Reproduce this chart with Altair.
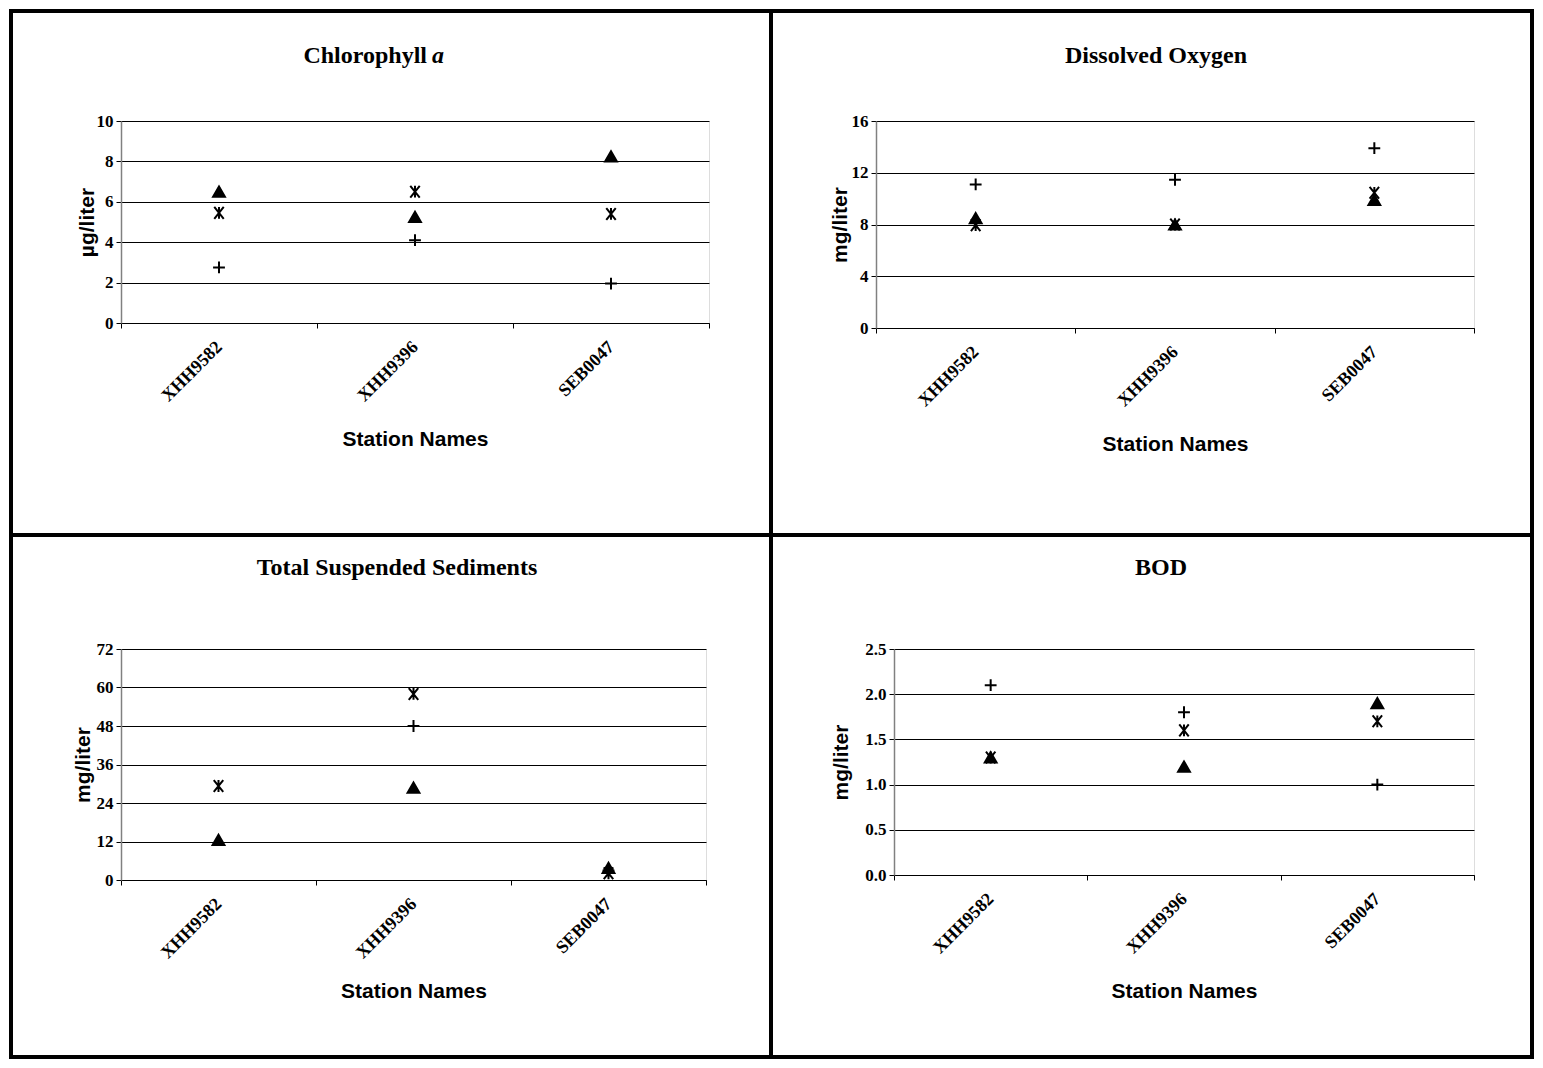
import altair as alt
import pandas as pd

stations = ["XHH9582", "XHH9396", "SEB0047"]
series_names = ["Sample 1", "Sample 2", "Sample 3"]  # plus, star, triangle

chl_plus = [2.75, 4.1, 1.95]
chl_star = [5.45, 6.5, 5.4]
chl_tri = [6.5, 5.25, 8.25]

do_plus = [11.1, 11.45, 13.9]
do_star = [7.95, 8.0, 10.45]
do_tri = [8.5, 8.0, 9.9]

tss_plus = [None, 48.0, 3.0]
tss_star = [29.3, 58.0, 2.1]
tss_tri = [12.5, 28.8, 3.8]

bod_plus = [2.1, 1.8, 1.0]
bod_star = [1.3, 1.6, 1.7]
bod_tri = [1.3, 1.2, 1.9]

chl_ticks = [0, 2, 4, 6, 8, 10]
do_ticks = [0, 4, 8, 12, 16]
tss_ticks = [0, 12, 24, 36, 48, 60, 72]
bod_ticks = [0, 0.5, 1.0, 1.5, 2.0, 2.5]

PLUS = "M-1,0L1,0M0,-1L0,1"
STAR = "M-0.8,-1L0.8,1M-0.8,1L0.8,-1M0,-1L0,1"

SERIF = "Liberation Serif"
SANS = "Liberation Sans"


def make_df(plus, star, tri):
    rows = []
    for name, vals in zip(series_names, [plus, star, tri]):
        for st, v in zip(stations, vals):
            if v is not None:
                rows.append({"station": st, "series": name, "value": v})
    return pd.DataFrame(rows)


def panel(plus, star, tri, ticks, fmt, ytitle, w, h, frame, titles,
          ytitle_x, xtitle_y):
    df = make_df(plus, star, tri)
    one = pd.DataFrame({"k": [0]})
    pts = alt.Chart(df).mark_point(
        filled=True, color="black", stroke="black", strokeWidth=2,
        opacity=1, size=140
    ).encode(
        x=alt.X("station:N", sort=stations,
                scale=alt.Scale(type="band", domain=stations,
                                paddingInner=0, paddingOuter=0),
                axis=alt.Axis(title="Station Names", labelAngle=-45,
                              labelAlign="right", labelBaseline="middle",
                              labelFont=SERIF, labelFontWeight="bold",
                              labelFontSize=18, labelColor="black",
                              labelPadding=16, tickBand="extent", tickSize=5,
                              tickColor="black", domainColor="black",
                              domainWidth=1, grid=False,
                              titleFont=SANS, titleFontWeight="bold",
                              titleFontSize=21, titleColor="black",
                              titleY=xtitle_y, titleBaseline="middle")),
        y=alt.Y("value:Q",
                scale=alt.Scale(domain=[ticks[0], ticks[-1]], nice=False),
                axis=alt.Axis(values=ticks, format=fmt, grid=True,
                              gridColor="black", gridWidth=1, gridOpacity=1,
                              domainColor="#808080", domainWidth=1.5,
                              tickColor="black", tickSize=5,
                              labelFont=SERIF, labelFontWeight="bold",
                              labelFontSize=17, labelColor="black",
                              labelPadding=3, title=ytitle,
                              titleFont=SANS, titleFontWeight="bold",
                              titleFontSize=21, titleColor="black",
                              titleX=ytitle_x, titleY=h / 2,
                              titleAlign="center", titleBaseline="middle")),
        shape=alt.Shape("series:N",
                        scale=alt.Scale(domain=series_names,
                                        range=[PLUS, STAR, "triangle-up"]),
                        legend=None),
    )
    fx0, fx1, fy0, fy1 = frame
    border = alt.Chart(one).mark_rect(
        fillOpacity=0, stroke="black", strokeWidth=4
    ).encode(x=alt.value(fx0), x2=alt.value(fx1),
             y=alt.value(fy0), y2=alt.value(fy1))
    layers = [border]
    for (txt, tx, ty, align, italic) in titles:
        layers.append(
            alt.Chart(one).mark_text(
                text=txt, font=SERIF, fontWeight="bold", fontSize=24,
                fontStyle="italic" if italic else "normal",
                align=align, baseline="middle", color="black"
            ).encode(x=alt.value(tx), y=alt.value(ty))
        )
    layers.append(pts)
    return alt.layer(*layers).properties(width=w, height=h)


p1 = panel(chl_plus, chl_star, chl_tri, chl_ticks, "d", "µg/liter",
           588, 202, (-110, 650, -110, 414),
           [("Chlorophyll", 306, -65, "right", False),
            ("a", 311, -65, "left", True)],
           -34, 116)
p2 = panel(do_plus, do_star, do_tri, do_ticks, "d", "mg/liter",
           598, 207, (-105, 656, -110, 414),
           [("Dissolved Oxygen", 280, -65, "center", False)],
           -36, 116)
p3 = panel(tss_plus, tss_star, tss_tri, tss_ticks, "d", "mg/liter",
           585, 231, (-110, 650, -114, 408),
           [("Total Suspended Sediments", 276, -81, "center", False)],
           -38, 111)
p4 = panel(bod_plus, bod_star, bod_tri, bod_ticks, ".1f", "mg/liter",
           580, 226, (-123, 638, -114, 408),
           [("BOD", 267, -81, "center", False)],
           -53, 116)

row1 = alt.hconcat(p1, p2, spacing=167, bounds="flush")
row2 = alt.hconcat(p3, p4, spacing=188, bounds="flush")
# nested concat rows report no flush height, so spacing includes row 1 height
chart = alt.vconcat(row1, row2, spacing=528, bounds="flush").properties(
    padding=0
).configure_view(stroke="transparent").configure(background="white")

chart.save("out.html", embed_options={"renderer": "svg", "actions": False})
